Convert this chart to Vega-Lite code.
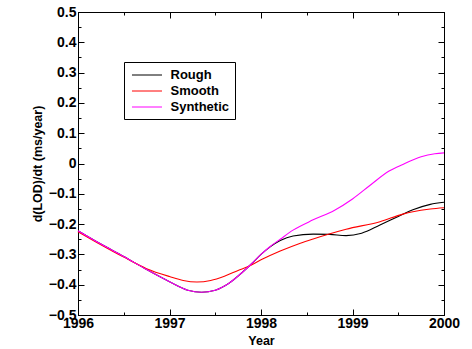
{
  "$schema": "https://vega.github.io/schema/vega-lite/v6.json",
  "autosize": "none",
  "width": 366,
  "height": 303,
  "padding": {"left": 78, "top": 12, "right": 28, "bottom": 34},
  "background": "white",
  "config": {
    "view": {"stroke": "black", "strokeWidth": 1},
    "font": "Liberation Sans",
    "axis": {
      "grid": false,
      "domainColor": "black",
      "tickColor": "black",
      "labelColor": "black",
      "titleColor": "black",
      "labelFont": "Liberation Sans",
      "titleFont": "Liberation Sans",
      "labelFontWeight": "bold",
      "titleFontWeight": "bold",
      "labelFontSize": 14,
      "titleFontSize": 12.5
    }
  },
  "data": {
    "values": [
      {"year": 1996.0, "v": -0.222, "series": "Rough"},
      {"year": 1996.25, "v": -0.266, "series": "Rough"},
      {"year": 1996.5, "v": -0.307, "series": "Rough"},
      {"year": 1996.75, "v": -0.350, "series": "Rough"},
      {"year": 1997.0, "v": -0.390, "series": "Rough"},
      {"year": 1997.2, "v": -0.418, "series": "Rough"},
      {"year": 1997.35, "v": -0.425, "series": "Rough"},
      {"year": 1997.5, "v": -0.418, "series": "Rough"},
      {"year": 1997.65, "v": -0.395, "series": "Rough"},
      {"year": 1997.8, "v": -0.358, "series": "Rough"},
      {"year": 1997.9, "v": -0.330, "series": "Rough"},
      {"year": 1998.0, "v": -0.300, "series": "Rough"},
      {"year": 1998.1, "v": -0.275, "series": "Rough"},
      {"year": 1998.21, "v": -0.254, "series": "Rough"},
      {"year": 1998.35, "v": -0.239, "series": "Rough"},
      {"year": 1998.57, "v": -0.233, "series": "Rough"},
      {"year": 1998.75, "v": -0.234, "series": "Rough"},
      {"year": 1998.93, "v": -0.238, "series": "Rough"},
      {"year": 1999.1, "v": -0.230, "series": "Rough"},
      {"year": 1999.3, "v": -0.203, "series": "Rough"},
      {"year": 1999.5, "v": -0.175, "series": "Rough"},
      {"year": 1999.66, "v": -0.153, "series": "Rough"},
      {"year": 1999.85, "v": -0.135, "series": "Rough"},
      {"year": 2000.0, "v": -0.128, "series": "Rough"},

      {"year": 1996.0, "v": -0.225, "series": "Smooth"},
      {"year": 1996.25, "v": -0.268, "series": "Smooth"},
      {"year": 1996.5, "v": -0.309, "series": "Smooth"},
      {"year": 1996.75, "v": -0.347, "series": "Smooth"},
      {"year": 1997.0, "v": -0.373, "series": "Smooth"},
      {"year": 1997.15, "v": -0.386, "series": "Smooth"},
      {"year": 1997.3, "v": -0.391, "series": "Smooth"},
      {"year": 1997.45, "v": -0.386, "series": "Smooth"},
      {"year": 1997.6, "v": -0.372, "series": "Smooth"},
      {"year": 1997.75, "v": -0.353, "series": "Smooth"},
      {"year": 1997.86, "v": -0.340, "series": "Smooth"},
      {"year": 1998.0, "v": -0.318, "series": "Smooth"},
      {"year": 1998.21, "v": -0.289, "series": "Smooth"},
      {"year": 1998.43, "v": -0.263, "series": "Smooth"},
      {"year": 1998.57, "v": -0.249, "series": "Smooth"},
      {"year": 1998.93, "v": -0.217, "series": "Smooth"},
      {"year": 1999.3, "v": -0.192, "series": "Smooth"},
      {"year": 1999.55, "v": -0.167, "series": "Smooth"},
      {"year": 1999.66, "v": -0.159, "series": "Smooth"},
      {"year": 1999.85, "v": -0.150, "series": "Smooth"},
      {"year": 2000.0, "v": -0.146, "series": "Smooth"},

      {"year": 1996.0, "v": -0.222, "series": "Synthetic"},
      {"year": 1996.25, "v": -0.266, "series": "Synthetic"},
      {"year": 1996.5, "v": -0.307, "series": "Synthetic"},
      {"year": 1996.75, "v": -0.350, "series": "Synthetic"},
      {"year": 1997.0, "v": -0.390, "series": "Synthetic"},
      {"year": 1997.2, "v": -0.418, "series": "Synthetic"},
      {"year": 1997.35, "v": -0.425, "series": "Synthetic"},
      {"year": 1997.5, "v": -0.418, "series": "Synthetic"},
      {"year": 1997.65, "v": -0.395, "series": "Synthetic"},
      {"year": 1997.8, "v": -0.358, "series": "Synthetic"},
      {"year": 1997.9, "v": -0.330, "series": "Synthetic"},
      {"year": 1998.0, "v": -0.300, "series": "Synthetic"},
      {"year": 1998.1, "v": -0.274, "series": "Synthetic"},
      {"year": 1998.21, "v": -0.250, "series": "Synthetic"},
      {"year": 1998.35, "v": -0.220, "series": "Synthetic"},
      {"year": 1998.57, "v": -0.186, "series": "Synthetic"},
      {"year": 1998.8, "v": -0.155, "series": "Synthetic"},
      {"year": 1999.0, "v": -0.117, "series": "Synthetic"},
      {"year": 1999.2, "v": -0.070, "series": "Synthetic"},
      {"year": 1999.4, "v": -0.025, "series": "Synthetic"},
      {"year": 1999.55, "v": -0.003, "series": "Synthetic"},
      {"year": 1999.75, "v": 0.022, "series": "Synthetic"},
      {"year": 1999.9, "v": 0.032, "series": "Synthetic"},
      {"year": 2000.0, "v": 0.035, "series": "Synthetic"}
    ]
  },
  "layer": [
    {
      "mark": {"type": "line", "interpolate": "monotone", "strokeWidth": 1.1},
      "encoding": {
        "x": {
          "field": "year", "type": "quantitative",
          "scale": {"domain": [1996, 2000], "nice": false, "zero": false},
          "axis": {
            "title": "Year",
            "orient": "bottom",
            "values": [1996, 1996.5, 1997, 1997.5, 1998, 1998.5, 1999, 1999.5, 2000],
            "labelExpr": "datum.value % 1 != 0 ? '' : format(datum.value, 'd')",
            "tickSize": {"condition": {"test": "datum.value % 1 != 0", "value": -3}, "value": -6},
            "labelPadding": 7,
            "titlePadding": 1,
            "labelFlush": false,
            "labelOverlap": false
          }
        },
        "y": {
          "field": "v", "type": "quantitative",
          "scale": {"domain": [-0.5, 0.5], "nice": false, "zero": false},
          "axis": {
            "title": "d(LOD)/dt (ms/year)",
            "orient": "left",
            "values": [-0.5, -0.45, -0.4, -0.35, -0.3, -0.25, -0.2, -0.15, -0.1, -0.05, 0, 0.05, 0.1, 0.15, 0.2, 0.25, 0.3, 0.35, 0.4, 0.45, 0.5],
            "labelExpr": "abs(datum.value*10 - round(datum.value*10)) > 0.01 ? '' : (abs(datum.value) < 1e-9 ? '0' : format(datum.value, '.1f'))",
            "tickSize": {"condition": {"test": "abs(datum.value*10 - round(datum.value*10)) > 0.01", "value": -3}, "value": -6},
            "labelPadding": 8,
            "titlePadding": 4,
            "labelFlush": false,
            "labelOverlap": false
          }
        },
        "color": {
          "field": "series", "type": "nominal",
          "scale": {"domain": ["Rough", "Smooth", "Synthetic"], "range": ["#000000", "#ff0000", "#ff00ff"]},
          "legend": {
            "title": null,
            "orient": "none",
            "legendX": 46,
            "legendY": 50,
            "symbolType": "M-0.667,0L3.333,0",
            "symbolSize": 225,
            "symbolStrokeWidth": 1,
            "labelFont": "Liberation Sans",
            "labelFontWeight": "bold",
            "labelFontSize": 13,
            "labelColor": "black",
            "strokeColor": "black",
            "fillColor": "white",
            "padding": 5,
            "rowPadding": 1,
            "labelOffset": 25.5
          }
        }
      }
    },
    {
      "mark": {"type": "line", "opacity": 0},
      "encoding": {
        "x": {
          "field": "year", "type": "quantitative",
          "scale": {"domain": [1996, 2000], "nice": false, "zero": false},
          "axis": {
            "title": null,
            "orient": "top",
            "values": [1996, 1996.5, 1997, 1997.5, 1998, 1998.5, 1999, 1999.5, 2000],
            "labels": false,
            "tickSize": {"condition": {"test": "datum.value % 1 != 0", "value": -3}, "value": -6}
          }
        },
        "y": {
          "field": "v", "type": "quantitative",
          "scale": {"domain": [-0.5, 0.5], "nice": false, "zero": false},
          "axis": {
            "title": null,
            "orient": "right",
            "values": [-0.5, -0.45, -0.4, -0.35, -0.3, -0.25, -0.2, -0.15, -0.1, -0.05, 0, 0.05, 0.1, 0.15, 0.2, 0.25, 0.3, 0.35, 0.4, 0.45, 0.5],
            "labels": false,
            "tickSize": {"condition": {"test": "abs(datum.value*10 - round(datum.value*10)) > 0.01", "value": -3}, "value": -6}
          }
        },
        "detail": {"field": "series"}
      }
    }
  ],
  "resolve": {"axis": {"x": "independent", "y": "independent"}}
}
